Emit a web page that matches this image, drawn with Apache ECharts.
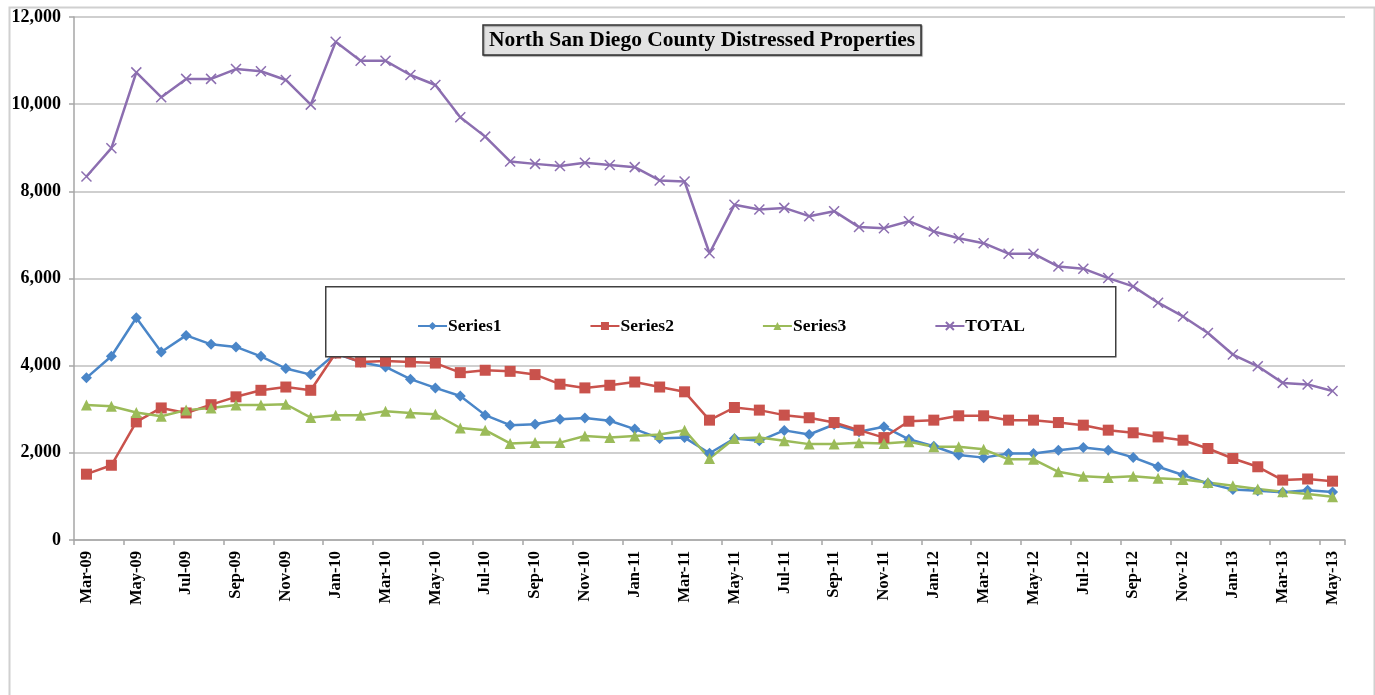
<!DOCTYPE html>
<html>
<head>
<meta charset="utf-8">
<script src="https://cdn.jsdelivr.net/npm/echarts@6/dist/echarts.min.js"></script>
<style>
html,body{margin:0;padding:0;background:#fff;}
#chart{width:1375px;height:695px;}
</style>
</head>
<body>
<div id="chart"></div>
<script>
var categories = ["Mar-09","Apr-09","May-09","Jun-09","Jul-09","Aug-09","Sep-09","Oct-09","Nov-09","Dec-09",
"Jan-10","Feb-10","Mar-10","Apr-10","May-10","Jun-10","Jul-10","Aug-10","Sep-10","Oct-10","Nov-10","Dec-10",
"Jan-11","Feb-11","Mar-11","Apr-11","May-11","Jun-11","Jul-11","Aug-11","Sep-11","Oct-11","Nov-11","Dec-11",
"Jan-12","Feb-12","Mar-12","Apr-12","May-12","Jun-12","Jul-12","Aug-12","Sep-12","Oct-12","Nov-12","Dec-12",
"Jan-13","Feb-13","Mar-13","Apr-13","May-13"];

var series1 = [3720,4215,5100,4315,4695,4490,4430,4215,3935,3795,
4280,4080,3970,3690,3490,3305,2865,2635,2655,2770,2800,2735,
2545,2330,2350,1990,2330,2275,2515,2420,2650,2485,2600,2310,
2150,1950,1890,1985,1985,2060,2120,2060,1895,1680,1490,1300,
1160,1130,1095,1140,1100];

var series2 = [1510,1715,2710,3030,2915,3105,3285,3435,3510,3435,
4290,4085,4105,4085,4060,3840,3895,3870,3795,3575,3490,3550,
3625,3510,3400,2750,3040,2980,2865,2805,2695,2520,2350,2725,
2750,2850,2850,2750,2750,2695,2635,2520,2460,2365,2290,2100,
1870,1680,1375,1400,1350];

var series3 = [3095,3070,2925,2840,2980,3030,3095,3095,3115,2810,
2865,2865,2955,2915,2885,2570,2520,2215,2235,2235,2385,2350,
2385,2420,2520,1870,2330,2350,2275,2200,2200,2230,2215,2255,
2140,2140,2080,1850,1850,1565,1465,1435,1465,1415,1390,1320,
1245,1170,1105,1055,995];

var total = [8340,8990,10730,10160,10580,10580,10805,10755,10555,9990,
11430,10995,10995,10670,10440,9700,9255,8685,8630,8580,8655,8605,
8555,8250,8225,6580,7690,7585,7620,7430,7545,7180,7155,7315,
7080,6925,6810,6570,6570,6275,6225,6010,5820,5445,5130,4750,
4255,3985,3605,3570,3420];

var yTicks = [0,2000,4000,6000,8000,10000,12000];

var serif = '"Liberation Serif","Times New Roman",serif';
var colors = ['#4A86C8','#C9524C','#9BBB59','#8C6EB0'];

var chart = echarts.init(document.getElementById('chart'), null, {renderer:'canvas'});

function mk(name, data, symbol, size, color){
  return {
    name: name, type: 'line', data: data,
    symbol: symbol, symbolSize: size,
    showAllSymbol: true,
    lineStyle: {color: color, width: 2.5},
    itemStyle: {color: color, borderColor: color, borderWidth: symbol.indexOf('path')===0 ? 1.5 : 0},
    emphasis: {disabled: true},
    animation: false,
    z: 3
  };
}

var option = {
  backgroundColor: '#ffffff',
  animation: false,
  title: {
    text: 'North San Diego County Distressed Properties',
    left: 483, top: 25,
    padding: [4, 6, 4, 6],
    backgroundColor: '#e2e2e2',
    borderColor: '#333333',
    borderWidth: 1.5,
    shadowColor: 'rgba(0,0,0,0.35)',
    shadowOffsetX: 1, shadowOffsetY: 1, shadowBlur: 1,
    textStyle: {fontFamily: serif, fontWeight: 'bold', fontSize: 21.5, lineHeight: 22, color: '#000'}
  },
  legend: {
    left: 412, top: 312,
    itemGap: 88,
    itemWidth: 29, itemHeight: 10,
    textStyle: {fontFamily: serif, fontWeight: 'bold', fontSize: 17.5, color: '#000', padding:[0,0,0,-4]},
    data: ['Series1','Series2','Series3','TOTAL']
  },
  graphic: [
    {type: 'rect', left: 7, top: 5, shape: {width: 1365, height: 700},
     style: {fill: 'none', stroke: '#d0d0d0', lineWidth: 2}, silent: true, z: 0},
    {type: 'rect', left: 325, top: 286, shape: {width: 790, height: 70},
     style: {fill: '#ffffff', stroke: '#404040', lineWidth: 1.5}, silent: true, z: 5}
  ],
  grid: {left: 74, right: 30, top: 17, bottom: 155, containLabel: false},
  xAxis: {
    type: 'category',
    data: categories,
    boundaryGap: true,
    axisLine: {show: true, lineStyle: {color: '#a6a6a6', width: 1.5}},
    axisTick: {show: true, interval: 1, length: 5, lineStyle: {color: '#a6a6a6', width: 1.5}},
    axisLabel: {interval: 1, rotate: 90, margin: 11, fontFamily: serif, fontWeight: 'bold', fontSize: 16.5, color: '#000'},
    splitLine: {show: false}
  },
  yAxis: {
    type: 'value',
    min: yTicks[0], max: yTicks[yTicks.length-1], interval: 2000,
    axisLine: {show: true, lineStyle: {color: '#a6a6a6', width: 1.5}},
    axisTick: {show: true, length: 5, lineStyle: {color: '#a6a6a6', width: 1.5}},
    axisLabel: {margin: 13, fontFamily: serif, fontWeight: 'bold', fontSize: 18, color: '#000',
      formatter: function(v){ return v.toLocaleString('en-US'); }},
    splitLine: {show: true, lineStyle: {color: '#bfbfbf', width: 1.5}}
  },
  series: [
    mk('Series1', series1, 'diamond', 11, colors[0]),
    mk('Series2', series2, 'rect', 11, colors[1]),
    mk('Series3', series3, 'triangle', 11, colors[2]),
    mk('TOTAL', total, 'path://M0,0 L10,10 M10,0 L0,10', 10, colors[3])
  ]
};
option.legend.z = 10;
chart.setOption(option);
</script>
</body>
</html>
